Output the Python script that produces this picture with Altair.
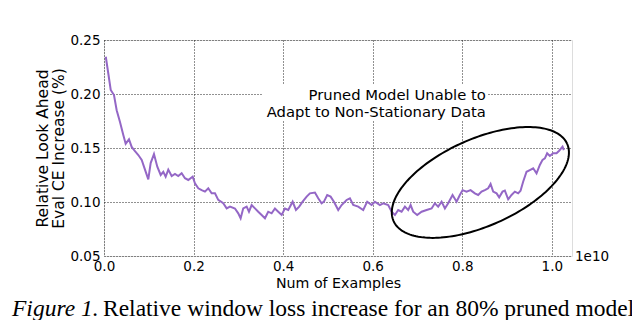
import altair as alt
import numpy as np
import pandas as pd

# Line data (x in units of 1e10 examples, y = relative CE increase %)
x_vals = [0.004, 0.0096, 0.015, 0.0223, 0.0283, 0.0357, 0.0431, 0.0484, 0.0558, 0.0618,
          0.0692, 0.0766, 0.0842, 0.0915, 0.0989, 0.1042, 0.1116, 0.119, 0.1266, 0.1324,
          0.1377, 0.1435, 0.1511, 0.1585, 0.1658, 0.1734, 0.1808, 0.1882, 0.198, 0.2031,
          0.2105, 0.2181, 0.2254, 0.2328, 0.2404, 0.2478, 0.2551, 0.2663, 0.2739, 0.2813,
          0.2924, 0.2998, 0.3051, 0.3109, 0.3185, 0.3237, 0.3297, 0.3371, 0.3444, 0.352,
          0.3594, 0.3667, 0.3743, 0.3817, 0.3891, 0.3967, 0.404, 0.4114, 0.4212, 0.4286,
          0.4359, 0.4435, 0.4525, 0.4598, 0.471, 0.4783, 0.4859, 0.4911, 0.4984, 0.506,
          0.5134, 0.523, 0.5306, 0.5417, 0.5491, 0.5565, 0.5676, 0.5788, 0.5877, 0.5975,
          0.6049, 0.6161, 0.6234, 0.6346, 0.6422, 0.6496, 0.6569, 0.6645, 0.6719, 0.6792,
          0.6846, 0.6904, 0.6993, 0.7092, 0.7203, 0.7315, 0.7388, 0.7462, 0.7538, 0.7612,
          0.7685, 0.7783, 0.7873, 0.7946, 0.8007, 0.8096, 0.8185, 0.8281, 0.8355, 0.8431,
          0.8504, 0.8578, 0.8632, 0.869, 0.8766, 0.8824, 0.8899, 0.8951, 0.9025, 0.91,
          0.9174, 0.9248, 0.9301, 0.9359, 0.9435, 0.9509, 0.9583, 0.9658, 0.9732, 0.9792,
          0.9844, 0.9895, 0.9955, 1.0029, 1.0105, 1.0163, 1.0239, 1.0268]
y_vals = [0.2345, 0.219, 0.2037, 0.199, 0.185, 0.174, 0.162, 0.154, 0.158, 0.151,
          0.147, 0.1435, 0.139, 0.130, 0.121, 0.136, 0.1444, 0.1327, 0.125, 0.128,
          0.1234, 0.130, 0.124, 0.126, 0.124, 0.1266, 0.122, 0.1204, 0.1234, 0.1173,
          0.1127, 0.111, 0.1096, 0.1127, 0.108, 0.108, 0.102, 0.0988, 0.0941, 0.0957,
          0.094, 0.0895, 0.0849, 0.0941, 0.0957, 0.091, 0.0972, 0.0941, 0.091, 0.088,
          0.0849, 0.091, 0.0895, 0.094, 0.091, 0.088, 0.094, 0.0926, 0.1003, 0.0926,
          0.0957, 0.1003, 0.105, 0.108, 0.1087, 0.1034, 0.0988, 0.1003, 0.1065, 0.105,
          0.1003, 0.0926, 0.0972, 0.1019, 0.1034, 0.0972, 0.0957, 0.0926, 0.1003, 0.0972,
          0.1003, 0.0972, 0.0988, 0.0972, 0.091, 0.088, 0.0926, 0.091, 0.0957, 0.0926,
          0.0972, 0.091, 0.088, 0.091, 0.0926, 0.094, 0.0988, 0.0957, 0.1003, 0.094,
          0.0988, 0.1065, 0.1003, 0.1065, 0.111, 0.1096, 0.111, 0.108, 0.1065, 0.1096,
          0.111, 0.1127, 0.1167, 0.1096, 0.108, 0.1043, 0.1096, 0.1105, 0.1025, 0.1065,
          0.1096, 0.108, 0.1105, 0.1188, 0.128, 0.1296, 0.1312, 0.1266, 0.1343, 0.139,
          0.1404, 0.1451, 0.1426, 0.1451, 0.1451, 0.1475, 0.1512, 0.148]

x_ticks = [0.0, 0.2, 0.4, 0.6, 0.8, 1.0]
y_ticks = [0.05, 0.10, 0.15, 0.20, 0.25]
annot_lines = ["Pruned Model Unable to", "Adapt to Non-Stationary Data"]
caption_italic = "Figure 1."
caption_rest = "Relative window loss increase for an 80% pruned model"

W, H = 468, 216
X_DOM = [0, 1.045]
Y_DOM = [0.05, 0.25]
FONT = "DejaVu Sans"

df = pd.DataFrame({"x": x_vals, "y": y_vals})

xs = alt.Scale(domain=X_DOM, nice=False, zero=False)
ys = alt.Scale(domain=Y_DOM, nice=False, zero=False)

# ellipse annotation (center, semi-axes in px, rotation)
px_per_x = W / (X_DOM[1] - X_DOM[0])
px_per_y = H / (Y_DOM[1] - Y_DOM[0])
ecx, ecy = 0.8404, 0.1181
ea, eb, eang = 95.0, 43.5, np.deg2rad(24)
t = np.linspace(0, 2 * np.pi, 181)
dx = ea * np.cos(t) * np.cos(eang) - eb * np.sin(t) * np.sin(eang)
dy = ea * np.cos(t) * np.sin(eang) + eb * np.sin(t) * np.cos(eang)
ell = pd.DataFrame({"x": ecx + dx / px_per_x, "y": ecy + dy / px_per_y, "o": np.arange(len(t))})

line = alt.Chart(df).mark_line(color="#9467c6", strokeWidth=2, clip=True).encode(
    x=alt.X("x:Q", scale=xs,
            axis=alt.Axis(values=x_ticks, format=".1f", title="Num of Examples",
                          grid=True, gridDash=[1, 2], gridColor="#222", gridOpacity=1,
                          ticks=False, domain=False, labelFont=FONT, labelFontSize=13.5,
                          labelColor="black", labelPadding=3, labelOverlap=False,
                          labelFlush=False, titleFont=FONT, titleFontSize=14.2,
                          titleFontWeight="normal", titleColor="black", titlePadding=4)),
    y=alt.Y("y:Q", scale=ys,
            axis=alt.Axis(values=y_ticks, format=".2f",
                          title=["Relative Look Ahead", "Eval CE Increase (%)"],
                          grid=True, gridDash=[1, 2], gridColor="#222", gridOpacity=1,
                          ticks=False, domain=False, labelFont=FONT, labelFontSize=13.5,
                          labelColor="black", labelPadding=4, labelOverlap=False,
                          labelFlush=False, titleFont=FONT, titleFontSize=15.5,
                          titleFontWeight="normal", titleColor="black", titlePadding=3,
                          titleLineHeight=16)),
)

bbox = alt.Chart(pd.DataFrame({"x": [0.3527], "x2": [0.857], "y": [0.2083], "y2": [0.175]})).mark_rect(
    color="white").encode(x=alt.X("x:Q", scale=xs), x2="x2:Q", y=alt.Y("y:Q", scale=ys), y2="y2:Q")

annot = alt.Chart(pd.DataFrame({"t": annot_lines, "x": [0.8527, 0.8527], "y": [0.1944, 0.179]})).mark_text(
    align="right", baseline="alphabetic", font=FONT, fontSize=14.8, color="black").encode(
    x=alt.X("x:Q", scale=xs), y=alt.Y("y:Q", scale=ys), text="t:N")

ellipse = alt.Chart(ell).mark_line(color="black", strokeWidth=2, clip=False).encode(
    x=alt.X("x:Q", scale=xs), y=alt.Y("y:Q", scale=ys), order="o:Q")

offset = alt.Chart(pd.DataFrame({"t": ["1e10"]})).mark_text(
    align="left", baseline="middle", font=FONT, fontSize=13.5, color="black").encode(
    x=alt.value(W + 3), y=alt.value(H + 0.5), text="t:N")

cap1 = alt.Chart(pd.DataFrame({"t": [caption_italic]})).mark_text(
    align="left", baseline="alphabetic", font="Liberation Serif", fontSize=23.5,
    fontStyle="italic", color="black").encode(x=alt.value(-92), y=alt.value(276), text="t:N")
cap2 = alt.Chart(pd.DataFrame({"t": [caption_rest]})).mark_text(
    align="left", baseline="alphabetic", font="Liberation Serif", fontSize=23.5,
    color="black").encode(x=alt.value(-1), y=alt.value(276), text="t:N")

chart = alt.layer(bbox, line, annot, ellipse, offset, cap1, cap2).properties(
    width=W, height=H,
    autosize=alt.AutoSizeParams(type="none"),
    padding={"left": 96, "top": 32, "right": 60, "bottom": 64},
).configure_view(stroke="black", strokeWidth=1.2).configure(background="white")

chart.save("out.html", embed_options={"renderer": "svg", "actions": False})
